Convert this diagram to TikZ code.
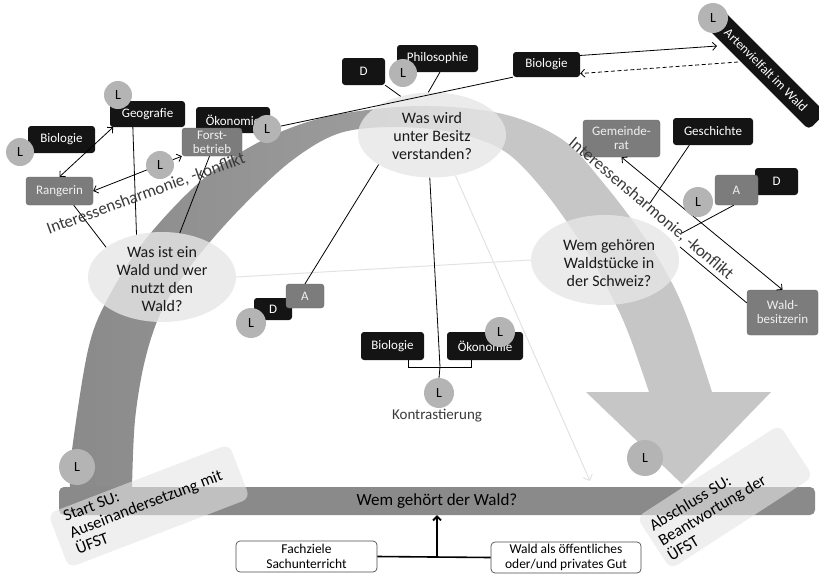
\documentclass[tikz,border=0pt]{standalone}
\usepackage{fontspec}
\setmainfont{Carlito}
\usetikzlibrary{arrows.meta,shapes.geometric,calc}
\definecolor{bandA}{HTML}{8A8A8A}
\definecolor{bandB}{HTML}{9C9C9C}
\definecolor{bandC}{HTML}{C6C6C6}
\definecolor{boxblack}{HTML}{141414}
\definecolor{boxgray}{HTML}{7C7C7C}
\definecolor{circgray}{HTML}{B4B4B4}
\definecolor{ellfill}{HTML}{E6E6E6}
\definecolor{bargray}{HTML}{8A8A8A}
\definecolor{txtdark}{HTML}{3A3A3A}
\definecolor{faintc}{HTML}{E2E2E2}
\definecolor{lightbx}{HTML}{E4E4E4}
\pgfdeclarehorizontalshading{bandshade}{100bp}{color(0bp)=(bandA); color(25bp)=(bandA); color(47bp)=(bandB); color(55bp)=(bandC); color(100bp)=(bandC)}
\begin{document}
\begin{tikzpicture}[x=1pt,y=-1pt,
  bbox/.style={rectangle, rounded corners=3pt, fill=boxblack, text=white, inner sep=0pt, font=\fontsize{13}{14}\selectfont, align=center},
  gbox/.style={rectangle, rounded corners=3pt, fill=boxgray, draw=boxgray!85!black, text=white!94!black, inner sep=0pt, font=\fontsize{13}{14}\selectfont, align=center},
  lcirc/.style={circle, fill=circgray, inner sep=0pt, minimum size=28pt, font=\fontsize{14}{14}\selectfont, text=black},
  bigcirc/.style={lcirc, minimum size=36pt},
  ell/.style={ellipse, fill=ellfill, fill opacity=0.8, draw=none, inner sep=0pt},
  elltext/.style={align=center, font=\fontsize{16}{18}\selectfont, text=black!90},
  conn/.style={draw=black, line width=0.8pt},
  dbl/.style={conn, {Straight Barb[length=4pt,width=8pt]}-{Straight Barb[length=4pt,width=8pt]}},
  single/.style={conn, -{Straight Barb[length=4pt,width=8pt]}},
  faintline/.style={draw=faintc, line width=1pt},
  ihtext/.style={font=\fontsize{17}{17}\selectfont, text=txtdark, inner sep=0pt},
  lightbox/.style={rectangle, rounded corners=8pt, fill=lightbx, fill opacity=0.6, draw=none, inner sep=0pt},
  sutext/.style={align=left, font=\fontsize{16.5}{17.5}\selectfont, text=black, inner sep=0pt},
  whitebox/.style={rectangle, rounded corners=4pt, fill=white, draw=black!70, line width=0.7pt, inner sep=0pt, align=center, font=\fontsize{13.5}{15.5}\selectfont}
]
\useasboundingbox (0,0) rectangle (819,576);
% big curved band with arrow head (tapering towards the top)
\shade[shading=bandshade]
  plot[smooth, tension=0.55] coordinates {(70,488) (72,450) (88,350) (107,300) (145,240) (202,180) (263,140) (330,116) (420,106) (503,114) (563,140) (605,185) (645,238) (672,283) (690,325) (712,392)}
  -- (771,392) -- (682,484) -- (586,392)
  -- plot[smooth, tension=0.55] coordinates {(649,392) (631,340) (616,305) (590,257) (548,196) (507,153) (460,134) (400,127) (340,133) (290,162) (236,213) (192,264) (162,310) (145,360) (135,420) (132,488)}
  -- cycle;

% ellipses (questions)
\node[ell, minimum width=148pt, minimum height=90pt] (e1) at (162,277) {};
\node[ell, minimum width=148pt, minimum height=85pt] (e2) at (432,135) {};
\node[ell, minimum width=148pt, minimum height=90pt] (e3) at (605,260) {};

% faint lines
\coordinate (fadeend) at (590,481);
\draw[faintline] (e1.east) -- (e3.west);
\draw[faintline, -{Straight Barb[length=5pt,width=10pt]}] (e2.-60) -- (fadeend);

\node[elltext] (e1t) at (162,279) {Was ist ein\\Wald und wer\\nutzt den\\Wald?};
\node[elltext] (e2t) at (432,136) {Was wird\\unter Besitz\\verstanden?};
\node[elltext] (e3t) at (609,263) {Wem gehören\\Waldstücke in\\der Schweiz?};

% bar
\node[rectangle, rounded corners=5pt, fill=bargray, minimum width=756pt, minimum height=28pt, inner sep=0pt, font=\fontsize{17}{18}\selectfont, text=black] (bar) at (437,501) {Wem gehört der Wald?};

% light boxes with rotated texts
\node[lightbox, rotate=21, minimum width=194pt, minimum height=58pt] (startbox) at (149,506) {};
\node[sutext, rotate=21] (starttext) at (146,504) {Start SU:\\Auseinandersetzung mit\\ÜFST};
\node[lightbox, rotate=33, minimum width=170pt, minimum height=62pt] (endbox) at (725,497) {};
\node[sutext, rotate=31] (endtext) at (712,510) {Abschluss SU:\\Beantwortung der\\ÜFST};

% bottom boxes
\node[whitebox, minimum width=141pt, minimum height=31pt] (fach) at (306.5,556.5) {Fachziele\\Sachunterricht};
\node[whitebox, minimum width=150pt, minimum height=31pt] (waldg) at (566,557.5) {Wald als öffentliches\\oder/und privates Gut};
\draw[line width=1.6pt] (fach.east) -- (waldg.west);
\draw[line width=1.8pt, -{Straight Barb[length=4pt,width=8pt]}] (fach.east -| bar.south) -- (bar.south);

% ---------- left cluster ----------
\node[bbox, minimum width=67pt, minimum height=27pt] (bioL) at (61.5,139.5) {Biologie};
\node[bbox, minimum width=75pt, minimum height=26pt] (geo) at (147.5,114) {Geografie};
\node[bbox, minimum width=74pt, minimum height=26pt] (oekL) at (233,120) {Ökonomie};
\node[gbox, minimum width=60pt, minimum height=28pt] (forst) at (212,142) {Forst-\\betrieb};
\node[gbox, minimum width=67pt, minimum height=28pt] (rang) at (59.5,191) {Rangerin};

\draw[dbl] (geo.-159) -- (rang.north);
\draw[dbl] (rang.east) -- (forst.south west);
\draw[conn] (rang.-45) -- (e1.152);
\draw[conn] (geo.-138) -- (e1.121);
\draw[conn] (forst.-100) -- (e1.68);

% ---------- top middle ----------
\node[bbox, minimum width=43pt, minimum height=27pt] (Dt) at (363.5,71.5) {D};
\node[bbox, minimum width=81pt, minimum height=27pt] (philo) at (437.5,58.5) {Philosophie};
\node[bbox, minimum width=67pt, minimum height=25pt] (bioT) at (546.5,64.5) {Biologie};
\node[bbox, rotate=-45, minimum width=145pt, minimum height=24pt, rounded corners=5pt] (arten) at (766,70) {Artenvielfalt im Wald};
\draw[conn] (Dt.south east) -- (e2.129);
\draw[conn] (philo.-80) -- (e2.95);

\coordinate (artIn) at (717,46);
\coordinate (artOut) at (738,62);
\draw[single] (bioT.15) -- (artIn);
\draw[single, dash pattern=on 4pt off 2.5pt] (artOut) -- (bioT.-15);

% ---------- right cluster ----------
\node[gbox, minimum width=77pt, minimum height=37pt] (gem) at (621.5,138.5) {Gemeinde-\\rat};
\node[bbox, minimum width=80pt, minimum height=27pt] (gesch) at (713,131.5) {Geschichte};
\node[bbox, minimum width=43pt, minimum height=27pt] (Dr) at (776.5,181.5) {D};
\node[gbox, minimum width=43pt, minimum height=30pt] (Ar) at (736.5,190) {A};
\node[gbox, minimum width=71pt, minimum height=45pt] (waldb) at (782.5,312.5) {Wald-\\besitzerin};
\coordinate (geschEnd) at (650,203);
\coordinate (arEnd) at (682,233);
\coordinate (waldbEnd) at (680,247);
\draw[conn] (gesch.-150) -- (geschEnd);
\draw[conn] (Ar.-100) -- (arEnd);
\draw[dbl] (gem.south) -- (waldb.north);
\draw[conn] (waldb.165) -- (waldbEnd);

% ---------- middle ----------
\node[bbox, minimum width=38pt, minimum height=22pt] (Dm) at (273,309) {D};
\node[gbox, minimum width=38pt, minimum height=24pt] (Am) at (305,296) {A};
\draw[conn] (Am.north) -- (e2.209);

\node[bbox, minimum width=63pt, minimum height=28pt] (bioM) at (392.5,346) {Biologie};
\node[bbox, minimum width=76pt, minimum height=28pt] (oekM) at (485,346) {Ökonomie};
\coordinate (brL) at (408,367);
\coordinate (brR) at (471,367);
\coordinate (brM) at (440,367);
\draw[conn] (bioM.south -| brL) -- (brL) -- (brR) -- (oekM.south -| brR);
\draw[conn] (e2.267) -- (brM);

% ---------- L circles ----------
\node[lcirc] (L1) at (20,152) {L};
\node[lcirc] (L2) at (118,95) {L};
\node[lcirc] (L3) at (267,129) {L};
\node[lcirc] (L4) at (160,165) {L};
\node[lcirc] (L5) at (403,73) {L};
\node[lcirc, minimum size=30pt] (L6) at (713,18) {L};
\node[lcirc, minimum size=30pt] (L7) at (698,202) {L};
\node[lcirc, minimum size=30pt] (L8) at (251,323) {L};
\node[lcirc, minimum size=30pt] (L9) at (500,332) {L};
\node[lcirc, minimum size=30pt] (L10) at (439,393) {L};
\node[bigcirc] (L11) at (77,467) {L};
\node[bigcirc] (L12) at (645,458) {L};
\draw[conn] (brM) -- (L10.north);
\draw[conn] (bioT.south west) -- (L3);

\node[font=\fontsize{15}{15}\selectfont, text=txtdark] (kontr) at (437,416) {Kontrastierung};

% ---------- rotated labels ----------
\node[ihtext, rotate=20] (ihL) at (146,194) {Interessensharmonie, -konflikt};
\node[ihtext, rotate=-40.3] (ihR) at (651,209) {Interessensharmonie, -konflikt};
\end{tikzpicture}
\end{document}
